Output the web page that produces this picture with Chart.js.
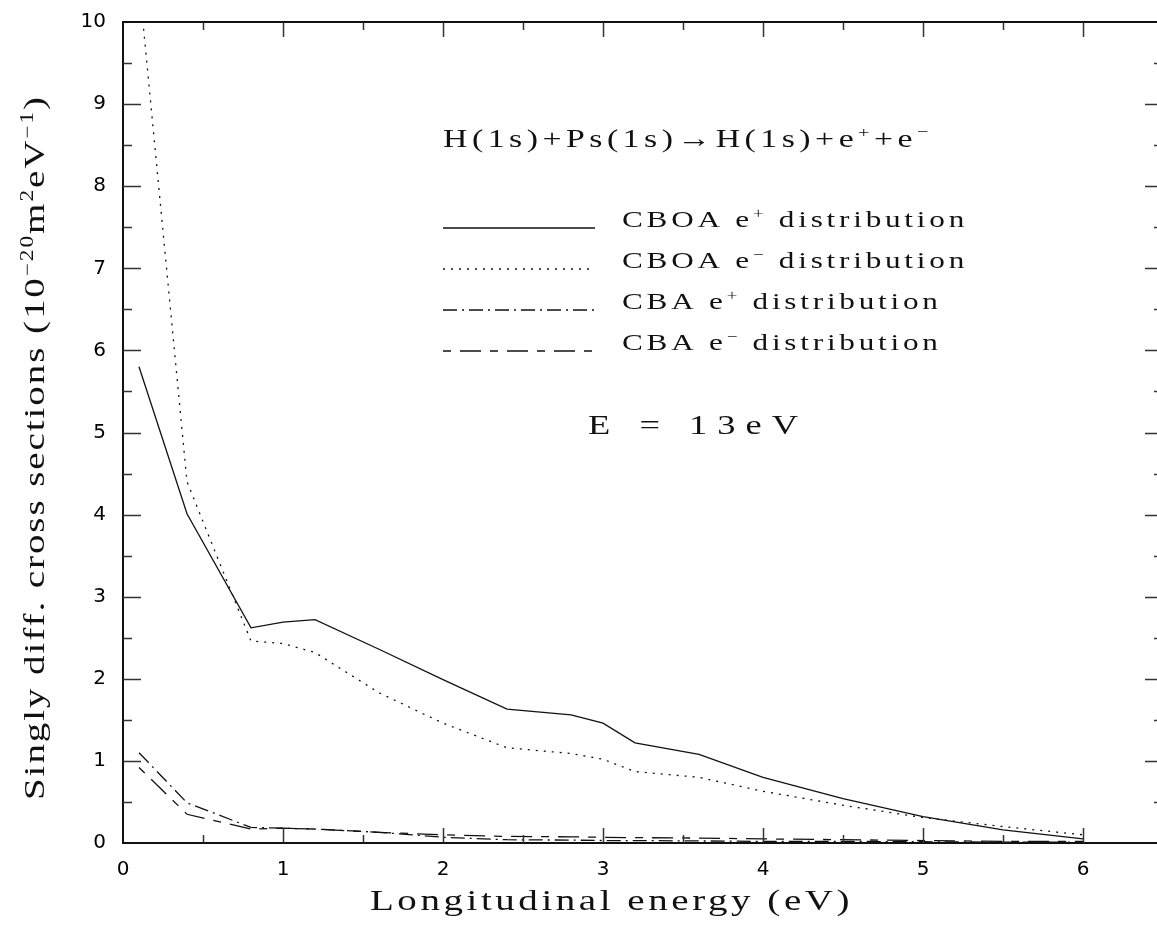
<!DOCTYPE html>
<html>
<head>
<meta charset="utf-8">
<script src="https://cdn.jsdelivr.net/npm/chart.js@4.4.0/dist/chart.umd.min.js"></script>
<style>
html, body { margin: 0; padding: 0; background: #fff; overflow: hidden; }
#wrap { width: 1170px; height: 931px; }
</style>
</head>
<body>
<div id="wrap"><canvas id="chart" width="1170" height="931"></canvas></div>
<script>
// Longitudinal energy grid (eV)
const energies = [0.1, 0.4, 0.8, 1.0, 1.2, 1.6, 2.0, 2.4, 2.8, 3.0, 3.2, 3.6, 4.0, 4.5, 5.0, 5.5, 6.0];

// Singly differential cross sections (10^-20 m^2 eV^-1)
const cboaPositron = [5.80, 4.01, 2.62, 2.69, 2.72, 2.36, 1.99, 1.63, 1.56, 1.46, 1.22, 1.08, 0.80, 0.54, 0.32, 0.16, 0.05];
const cboaElectron = [10.5, 4.40, 2.46, 2.43, 2.32, 1.83, 1.46, 1.16, 1.09, 1.02, 0.87, 0.80, 0.63, 0.46, 0.31, 0.20, 0.10];
const cbaPositron = [1.10, 0.49, 0.19, 0.18, 0.17, 0.13, 0.07, 0.04, 0.035, 0.03, 0.03, 0.025, 0.02, 0.02, 0.015, 0.01, 0.01];
const cbaElectron = [0.92, 0.35, 0.17, 0.18, 0.17, 0.13, 0.10, 0.08, 0.075, 0.07, 0.065, 0.06, 0.05, 0.04, 0.03, 0.02, 0.02];

const seriesLabels = ['CBOA e+ distribution', 'CBOA e- distribution', 'CBA e+ distribution', 'CBA e- distribution'];
const xTicks = [0, 1, 2, 3, 4, 5, 6];
const yTicks = [0, 1, 2, 3, 4, 5, 6, 7, 8, 9, 10];

const INK = '#111';
const SERIF = '"Liberation Serif", "DejaVu Serif", serif';
const TICK_FONT = { family: '"DejaVu Sans", "Liberation Sans", sans-serif', size: 20 };
const STRETCH = 1.3; // glyphs in the original are wider than Times

const dashes = [[], [2, 6], [14, 5, 2, 5], [8, 9, 21, 9]];

function toPoints(ys) {
    return energies.map((x, i) => ({ x: x, y: ys[i] }));
}

// Text made of runs (normal + superscript), widened and letter spaced
function runsWidth(ctx, runs, size, spacing) {
    let w = 0;
    runs.forEach(r => {
        ctx.font = (r.sup ? size * 0.6 : size) + 'px ' + SERIF;
        ctx.letterSpacing = spacing + 'px';
        w += ctx.measureText(r.t).width;
    });
    return w;
}

function charCount(runs) {
    return runs.reduce((n, r) => n + [...r.t].length, 0);
}

function fitSpacing(ctx, runs, size, width) {
    const natural = runsWidth(ctx, runs, size, 0);
    return (width / STRETCH - natural) / charCount(runs);
}

function drawRuns(ctx, runs, x, y, size, spacing) {
    ctx.save();
    ctx.translate(x, y);
    ctx.scale(STRETCH, 1);
    ctx.textAlign = 'left';
    ctx.textBaseline = 'alphabetic';
    let cx = 0;
    runs.forEach(r => {
        const fs = r.sup ? size * 0.6 : size;
        ctx.font = fs + 'px ' + SERIF;
        ctx.letterSpacing = spacing + 'px';
        ctx.fillText(r.t, cx, r.sup ? -size * 0.38 : 0);
        cx += ctx.measureText(r.t).width;
    });
    ctx.letterSpacing = '0px';
    ctx.restore();
}

const framePlugin = {
    id: 'frame',
    afterDraw(chart) {
        const ctx = chart.ctx;
        const a = chart.chartArea;
        const xs = chart.scales.x;
        const ys = chart.scales.y;
        ctx.save();

        // frame
        ctx.strokeStyle = INK;
        ctx.lineWidth = 2;
        ctx.strokeRect(a.left, a.top, a.right - a.left, a.bottom - a.top);

        // inward ticks on all four sides
        ctx.lineWidth = 1.5;
        ctx.strokeStyle = '#333';
        ctx.beginPath();
        for (let v = 0.5; v < 6.5; v += 0.5) {
            const px = Math.round(xs.getPixelForValue(v)) + 0.5;
            const len = Number.isInteger(v) ? 15 : 8;
            ctx.moveTo(px, a.bottom); ctx.lineTo(px, a.bottom - len);
            ctx.moveTo(px, a.top); ctx.lineTo(px, a.top + len);
        }
        for (let v = 0.5; v < 10; v += 0.5) {
            const py = Math.round(ys.getPixelForValue(v)) + 0.5;
            const len = Number.isInteger(v) ? 18 : 9;
            ctx.moveTo(a.left, py); ctx.lineTo(a.left + len, py);
            ctx.moveTo(a.right, py); ctx.lineTo(a.right - len, py);
        }
        ctx.stroke();

        ctx.fillStyle = INK;

        // x axis title
        const xTitle = [{ t: 'Longitudinal energy (eV)' }];
        drawRuns(ctx, xTitle, 370, 910, 30, fitSpacing(ctx, xTitle, 30, 483));

        // y axis title
        const yTitle = [
            { t: 'Singly diff. cross sections (10' }, { t: '\u221220', sup: true },
            { t: 'm' }, { t: '2', sup: true }, { t: 'eV' }, { t: '\u22121', sup: true }, { t: ')' }
        ];
        ctx.save();
        ctx.translate(44, 800);
        ctx.rotate(-Math.PI / 2);
        drawRuns(ctx, yTitle, 0, 0, 30, fitSpacing(ctx, yTitle, 30, 705));
        ctx.restore();

        // reaction title
        const reaction = [
            { t: 'H(1s)+Ps(1s)\u2192H(1s)+e' }, { t: '+', sup: true }, { t: '+e' }, { t: '\u2212', sup: true }
        ];
        drawRuns(ctx, reaction, 443, 147, 26, fitSpacing(ctx, reaction, 26, 490));

        // legend
        const legendRuns = [
            [{ t: 'CBOA e' }, { t: '+', sup: true }, { t: ' distribution' }],
            [{ t: 'CBOA e' }, { t: '\u2212', sup: true }, { t: ' distribution' }],
            [{ t: 'CBA e' }, { t: '+', sup: true }, { t: ' distribution' }],
            [{ t: 'CBA e' }, { t: '\u2212', sup: true }, { t: ' distribution' }]
        ];
        const legendSpacing = fitSpacing(ctx, legendRuns[0], 24, 346);
        const rowY = [227, 268, 309, 350];
        legendRuns.forEach((runs, i) => {
            ctx.strokeStyle = INK;
            ctx.lineWidth = 1.3;
            ctx.setLineDash(dashes[i]);
            ctx.beginPath();
            ctx.moveTo(443, rowY[i] + 1);
            ctx.lineTo(595, rowY[i] + 1);
            ctx.stroke();
            ctx.setLineDash([]);
            drawRuns(ctx, runs, 622, rowY[i], 24, legendSpacing);
        });

        // energy label
        const energy = [{ t: 'E = 13eV' }];
        drawRuns(ctx, energy, 588, 434, 28, fitSpacing(ctx, energy, 28, 220));

        ctx.restore();
    }
};

const seriesData = [cboaPositron, cboaElectron, cbaPositron, cbaElectron];

new Chart(document.getElementById('chart'), {
    type: 'line',
    data: {
        datasets: seriesData.map((ys, i) => ({
            label: seriesLabels[i],
            data: toPoints(ys),
            borderColor: INK,
            borderWidth: 1.3,
            borderDash: dashes[i],
            pointRadius: 0,
            fill: false,
            tension: 0
        }))
    },
    options: {
        responsive: false,
        animation: false,
        devicePixelRatio: 1,
        layout: { padding: { top: 22, right: 7, left: 0, bottom: 0 } },
        plugins: { legend: { display: false }, tooltip: { enabled: false } },
        scales: {
            x: {
                type: 'linear',
                min: 0,
                max: 6.5,
                afterFit: s => { s.height = 88; s.paddingLeft = 0; s.paddingRight = 0; },
                afterBuildTicks: s => { s.ticks = xTicks.map(v => ({ value: v })); },
                grid: { display: false, drawTicks: false },
                border: { display: false },
                ticks: {
                    padding: 15,
                    color: '#000',
                    maxRotation: 0,
                    autoSkip: false,
                    font: TICK_FONT
                }
            },
            y: {
                type: 'linear',
                min: 0,
                max: 10,
                afterFit: s => { s.width = 123; s.paddingTop = 0; s.paddingBottom = 0; },
                afterBuildTicks: s => { s.ticks = yTicks.map(v => ({ value: v })); },
                grid: { display: false, drawTicks: false },
                border: { display: false },
                ticks: {
                    padding: 17,
                    color: '#000',
                    autoSkip: false,
                    font: TICK_FONT
                }
            }
        }
    },
    plugins: [framePlugin]
});
</script>
</body>
</html>
